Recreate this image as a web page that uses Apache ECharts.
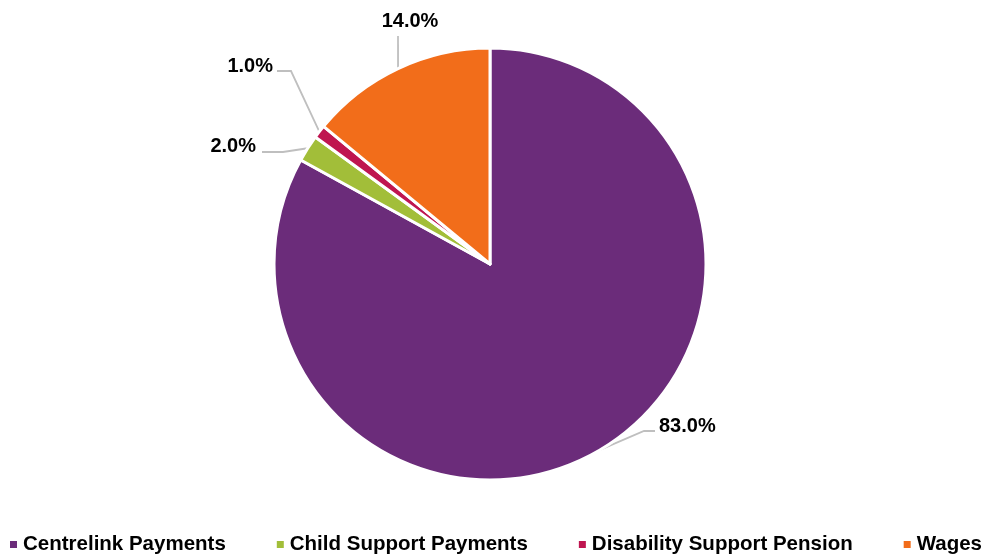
<!DOCTYPE html>
<html>
<head>
<meta charset="utf-8">
<script src="https://cdn.jsdelivr.net/npm/echarts@6/dist/echarts.min.js"></script>
<style>
  html, body { margin: 0; padding: 0; background: #ffffff; }
  #chart { width: 985px; height: 556px; }
</style>
</head>
<body>
<div id="chart"></div>
<script>
// Income sources (share of respondents, %)
const categories = ['Centrelink Payments', 'Child Support Payments', 'Disability Support Pension', 'Wages'];
const shares = [83.0, 2.0, 1.0, 14.0];
const colors = ['#6B2C7A', '#A2BE39', '#BF1550', '#F26D1A'];

// Where each value label sits and how its leader line bends
const labelSpots = [
  { x: 659, y: 426, align: 'left',   bend: [644, 431], end: [655, 431] },
  { x: 256, y: 146, align: 'right',  bend: [283, 152], end: [262, 152] },
  { x: 273, y: 66,  align: 'right',  bend: [291, 71],  end: [277, 71] },
  { x: 410, y: 21,  align: 'center', bend: [398, 36],  end: [398, 36] }
];

const font = '"Liberation Sans", Arial, sans-serif';

const chart = echarts.init(document.getElementById('chart'), null, { renderer: 'canvas' });
chart.setOption({
  animation: false,
  color: colors,
  legend: {
    data: categories,
    top: 534,
    left: 8,
    width: 977,
    padding: 0,
    icon: 'rect',
    itemWidth: 9,
    itemHeight: 9,
    itemGap: 49,
    textStyle: {
      fontFamily: font, fontWeight: 'bold', fontSize: 20.5, color: '#000'
    }
  },
  series: [{
    type: 'pie',
    center: [490, 264],
    radius: 216,
    startAngle: 90,
    clockwise: true,
    data: categories.map((name, i) => ({ name, value: shares[i] })),
    itemStyle: { borderColor: '#ffffff', borderWidth: 3 },
    label: {
      show: true,
      formatter: p => p.value.toFixed(1) + '%',
      fontFamily: font,
      fontWeight: 'bold',
      fontSize: 20,
      color: '#000'
    },
    labelLine: {
      show: true,
      lineStyle: { color: '#BFBFBF', width: 1.8 }
    },
    labelLayout: function (params) {
      const s = labelSpots[params.dataIndex];
      const start = params.labelLinePoints ? params.labelLinePoints[0] : s.bend;
      return {
        x: s.x,
        y: s.y,
        align: s.align,
        verticalAlign: 'middle',
        labelLinePoints: [start, s.bend, s.end]
      };
    }
  }]
});
</script>
</body>
</html>
